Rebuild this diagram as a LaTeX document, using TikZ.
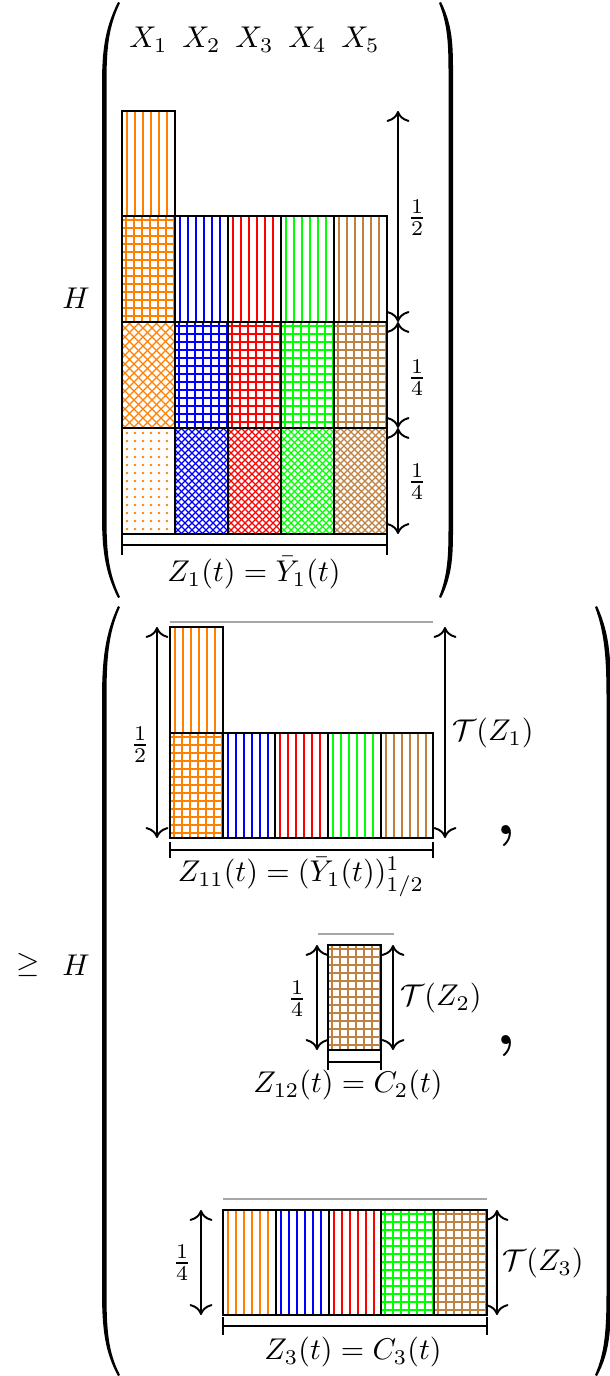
\documentclass[tikz,border=0pt]{standalone}
\usetikzlibrary{arrows.meta}
\newcommand\pvl[5]{\begin{scope}\clip (#1,#2) rectangle (#3,#4);
  \foreach \x in {5,13,...,61} \draw[pl,#5] ({#1+\x},#2) -- ({#1+\x},#4);
\end{scope}}
\newcommand\pgr[5]{\begin{scope}\clip (#1,#2) rectangle (#3,#4);
  \foreach \x in {4,12,...,60} \draw[pl,#5] ({#1+\x},#2) -- ({#1+\x},#4);
  \foreach \y in {4,12,...,108} \draw[pl,#5] (#1,{#2+\y}) -- (#3,{#2+\y});
\end{scope}}
\newcommand\pch[6]{\begin{scope}\clip (#1,#2) rectangle (#3,#4);
  \foreach \i in {0,...,30} {
    \draw[cl,#5] ({#1-120+\i*#6},#2) -- ++(120,120);
    \draw[cl,#5] ({#1+\i*#6},#2) -- ++(-120,120);}
\end{scope}}
\newcommand\pdt[5]{\begin{scope}\clip (#1,#2) rectangle (#3,#4);
  \foreach \i in {5,13,...,53} \foreach \j in {5,13,...,109}
    \fill[#5] ({#1+\i},{#2+\j}) circle[radius=1.4];
\end{scope}}
\begin{document}
\begin{tikzpicture}[x=0.3333pt,y=-0.3333pt,
  box/.style={draw=black,line width=0.8pt},
  dim/.style={line width=0.65pt,{To[scale=1.2]}-{To[scale=1.2]}},
  bar/.style={line width=0.75pt},
  topline/.style={draw=gray!70,line width=0.4pt},
  pl/.style={line width=0.5pt},
  cl/.style={line width=0.42pt},
  lbl/.style={inner sep=0pt},
  paren/.style={fill=black}]
\useasboundingbox (0,0) rectangle (610,1376);

% ---------- parentheses ----------
\fill[paren] (118,2) .. controls (105,28) and (102,50) .. (102,85) -- (102,515)
  .. controls (102,550) and (105,572) .. (118,598) -- (120,597)
  .. controls (108,572) and (106.5,550) .. (106.5,515) -- (106.5,85)
  .. controls (106.5,50) and (108,28) .. (120,3) -- cycle;
\fill[paren] (441,2) .. controls (454,28) and (453,50) .. (453,85) -- (453,515)
  .. controls (453,550) and (454,572) .. (441,598) -- (439,597)
  .. controls (449,572) and (448.5,550) .. (448.5,515) -- (448.5,85)
  .. controls (448.5,50) and (449,28) .. (439,3) -- cycle;
\fill[paren] (118,606) .. controls (105,634) and (102,660) .. (102,700) -- (102,1290)
  .. controls (102,1330) and (105,1352) .. (118,1376) -- (120,1375)
  .. controls (108,1352) and (106.5,1330) .. (106.5,1290) -- (106.5,700)
  .. controls (106.5,660) and (108,634) .. (120,607) -- cycle;
\fill[paren] (597,606) .. controls (610,634) and (611,660) .. (611,700) -- (611,1290)
  .. controls (611,1330) and (610,1352) .. (597,1376) -- (595,1375)
  .. controls (605,1352) and (606.5,1330) .. (606.5,1290) -- (606.5,700)
  .. controls (606.5,660) and (605,634) .. (595,607) -- cycle;

% ---------- top section ----------
\node[lbl] (x1) at (148.5,40) {$X_1$};
\node[lbl] (x2) at (201.5,40) {$X_2$};
\node[lbl] (x3) at (254.5,40) {$X_3$};
\node[lbl] (x4) at (307.5,40) {$X_4$};
\node[lbl] (x5) at (360.5,40) {$X_5$};
\node[lbl] (h1) at (76,298) {$H$};

\pvl{122}{111}{175}{216}{orange}
\pgr{122}{216}{175}{322}{orange}
\pvl{175}{216}{228}{322}{blue}
\pvl{228}{216}{281}{322}{red}
\pvl{281}{216}{334}{322}{green}
\pvl{334}{216}{387}{322}{brown}
\pch{122}{322}{175}{428}{orange}{9}
\pgr{175}{322}{228}{428}{blue}
\pgr{228}{322}{281}{428}{red}
\pgr{281}{322}{334}{428}{green}
\pgr{334}{322}{387}{428}{brown}
\pdt{122}{428}{175}{534}{orange}
\pch{175}{428}{228}{534}{blue}{7}
\pch{228}{428}{281}{534}{red}{7}
\pch{281}{428}{334}{534}{green}{7}
\pch{334}{428}{387}{534}{brown}{7}
\draw[box] (122,111) rectangle (175,216);
\foreach \r in {216,322,428}
  \foreach \c in {122,175,228,281,334}
    \draw[box] (\c,\r) rectangle ++(53,106);

\coordinate (t0) at (398,111);
\coordinate (t1) at (398,322);
\coordinate (t2) at (398,428);
\coordinate (t3) at (398,534);
\draw[dim] (t0) -- (t1);
\draw[dim] (t1) -- (t2);
\draw[dim] (t2) -- (t3);
\node[lbl] (f1) at (417,218) {$\frac{1}{2}$};
\node[lbl] (f2) at (417,378) {$\frac{1}{4}$};
\node[lbl] (f3) at (417,482) {$\frac{1}{4}$};

\coordinate (b0) at (122,545);
\coordinate (b1) at (387,545);
\draw[bar] (b0) -- (b1);
\draw[bar] ([shift={(0,-10)}]b0) -- ([shift={(0,10)}]b0);
\draw[bar] ([shift={(0,-10)}]b1) -- ([shift={(0,10)}]b1);
\node[lbl] (zl1) at (254,573) {$Z_1(t) = \bar{Y}_1(t)$};

% ---------- second section ----------
\node[lbl] (geq) at (28,965) {$\geq$};
\node[lbl] (h2) at (76,965) {$H$};

% sub 1
\draw[topline] (170,622) -- (433,622);
\pvl{170}{627}{223}{733}{orange}
\pgr{170}{733}{223}{838}{orange}
\pvl{223}{733}{275}{838}{blue}
\pvl{275}{733}{328}{838}{red}
\pvl{328}{733}{381}{838}{green}
\pvl{381}{733}{433}{838}{brown}
\draw[box] (170,627) rectangle (223,733);
\draw[box] (170,733) rectangle (223,838);
\draw[box] (223,733) rectangle (275,838);
\draw[box] (275,733) rectangle (328,838);
\draw[box] (328,733) rectangle (381,838);
\draw[box] (381,733) rectangle (433,838);
\coordinate (l1a) at (157,627);
\coordinate (l1b) at (157,838);
\draw[dim] (l1a) -- (l1b);
\coordinate (r1a) at (445,627);
\coordinate (r1b) at (445,838);
\draw[dim] (r1a) -- (r1b);
\node[lbl] (g1) at (140,745) {$\frac{1}{2}$};
\node[lbl] (tz1) at (493,733) {$\mathcal{T}(Z_1)$};
\coordinate (c0) at (170,850);
\coordinate (c1) at (433,850);
\draw[bar] (c0) -- (c1);
\draw[bar] ([shift={(0,-8)}]c0) -- ([shift={(0,8)}]c0);
\draw[bar] ([shift={(0,-8)}]c1) -- ([shift={(0,8)}]c1);
\node[lbl] (zl2) at (301,877) {$Z_{11}(t) = (\bar{Y}_1(t))^1_{1/2}$};
\node[lbl] (cm1) at (506,836) {\huge\bfseries ,};

% sub 2
\draw[topline] (318,934) -- (394,934);
\pgr{328}{945}{381}{1050}{brown}
\draw[box] (328,945) rectangle (381,1050);
\coordinate (l2a) at (317,945);
\coordinate (l2b) at (317,1050);
\draw[dim] (l2a) -- (l2b);
\coordinate (r2a) at (393,945);
\coordinate (r2b) at (393,1050);
\draw[dim] (r2a) -- (r2b);
\node[lbl] (g2) at (297,999) {$\frac{1}{4}$};
\node[lbl] (tz2) at (441,998) {$\mathcal{T}(Z_2)$};
\coordinate (d0) at (328,1062);
\coordinate (d1) at (381,1062);
\draw[bar] (d0) -- (d1);
\draw[bar] ([shift={(0,-12)}]d0) -- ([shift={(0,8)}]d0);
\draw[bar] ([shift={(0,-12)}]d1) -- ([shift={(0,8)}]d1);
\node[lbl] (zl3) at (348,1085) {$Z_{12}(t) = C_2(t)$};
\node[lbl] (cm2) at (506,1046) {\huge\bfseries ,};

% sub 3
\draw[topline] (223,1199) -- (487,1199);
\pvl{223}{1210}{276}{1315}{orange}
\pvl{276}{1210}{329}{1315}{blue}
\pvl{329}{1210}{381}{1315}{red}
\pgr{381}{1210}{434}{1315}{green}
\pgr{434}{1210}{487}{1315}{brown}
\draw[box] (223,1210) rectangle (276,1315);
\draw[box] (276,1210) rectangle (329,1315);
\draw[box] (329,1210) rectangle (381,1315);
\draw[box] (381,1210) rectangle (434,1315);
\draw[box] (434,1210) rectangle (487,1315);
\coordinate (l3a) at (201,1210);
\coordinate (l3b) at (201,1315);
\draw[dim] (l3a) -- (l3b);
\coordinate (r3a) at (497,1210);
\coordinate (r3b) at (497,1315);
\draw[dim] (r3a) -- (r3b);
\node[lbl] (g3) at (182,1263) {$\frac{1}{4}$};
\node[lbl] (tz3) at (543,1263) {$\mathcal{T}(Z_3)$};
\coordinate (e0) at (223,1326);
\coordinate (e1) at (487,1326);
\draw[bar] (e0) -- (e1);
\draw[bar] ([shift={(0,-9)}]e0) -- ([shift={(0,9)}]e0);
\draw[bar] ([shift={(0,-9)}]e1) -- ([shift={(0,9)}]e1);
\node[lbl] (zl4) at (353,1352) {$Z_3(t) = C_3(t)$};
\end{tikzpicture}
\end{document}
